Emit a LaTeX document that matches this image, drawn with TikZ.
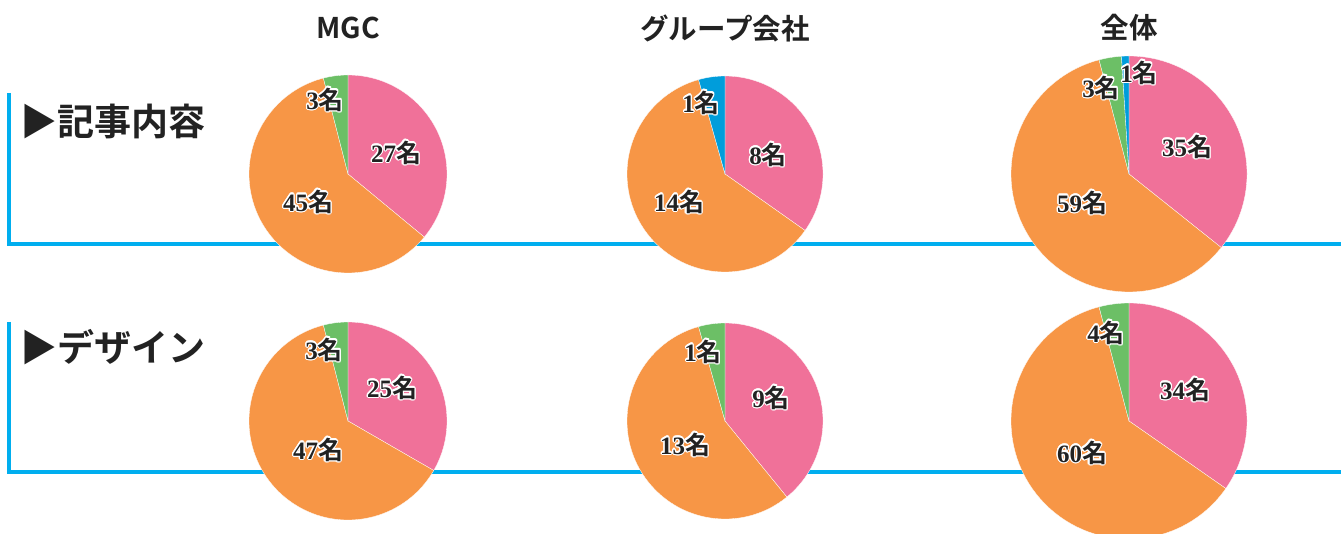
\documentclass[tikz,border=0pt]{standalone}
\usepackage{fontspec}
\setmainfont{Noto Sans CJK JP}[BoldFont={Noto Sans CJK JP Bold}]
\newfontfamily\numfont{Liberation Serif}
\usepackage{contour}
\contourlength{1.1pt}
\definecolor{piepink}{HTML}{F07199}
\definecolor{pieorange}{HTML}{F79646}
\definecolor{piegreen}{HTML}{6CBF66}
\definecolor{pieblue}{HTML}{009DDB}
\definecolor{linecyan}{HTML}{00AEEF}
\definecolor{inkdark}{HTML}{222222}
\tikzset{
  colhead/.style={font=\fontsize{28.5}{28.5}\selectfont\bfseries, text=inkdark},
  rowhead/.style={font=\fontsize{37}{37}\selectfont\bfseries, text=inkdark, anchor=west, inner sep=0pt},
  count/.style={font=\fontsize{25}{25}\selectfont\bfseries, text=inkdark, inner sep=0pt},
  frameline/.style={linecyan, line width=3.2pt},
}
% one pie: centre x, centre y, radius, total, list of from/to/colour
\newcommand{\piechart}[5]{%
  \foreach \s/\e/\c in {#5}
    \fill[\c, draw=white, line width=0.3pt] (#1,#2) -- ++({90-(\s/#4)*360}:#3)
      arc[start angle={90-(\s/#4)*360}, end angle={90-(\e/#4)*360}, radius=#3] -- cycle;
}
\newcommand{\ninzu}[1]{\contour{white}{{\numfont\bfseries #1}名}}
\begin{document}
\begin{tikzpicture}[x=1pt, y=1pt]
  \useasboundingbox (0,0) rectangle (1341,533);
  \clip (0,0) rectangle (1341,533);
  % frames
  \draw[frameline] (9,440) |- (1341,289);
  \draw[frameline] (9,211) |- (1341,61);
  % pies
  \piechart{348}{359}{99}{75}{0/27/piepink, 27/72/pieorange, 72/75/piegreen}
  \piechart{725}{359}{98}{23}{0/8/piepink, 8/22/pieorange, 22/23/pieblue}
  \piechart{1129}{359}{118}{98}{0/35/piepink, 35/94/pieorange, 94/97/piegreen, 97/98/pieblue}
  \piechart{348}{112}{99}{75}{0/25/piepink, 25/72/pieorange, 72/75/piegreen}
  \piechart{725}{112}{98}{23}{0/9/piepink, 9/22/pieorange, 22/23/piegreen}
  \piechart{1129}{112}{118}{98}{0/34/piepink, 34/94/pieorange, 94/98/piegreen}
  % headings
  \node[colhead] (hmgc) at (348,505) {MGC};
  \node[colhead] (hgroup) at (725,505) {グループ会社};
  \node[colhead] (hall) at (1129,505) {全体};
  \node[rowhead] (rkiji) at (20,412) {▶記事内容};
  \node[rowhead] (rdesign) at (20,186) {▶デザイン};
  % counts
  \node[count] (kmgcg) at (325,433) {\ninzu{3}};
  \node[count] (kmgcp) at (396,380) {\ninzu{27}};
  \node[count] (kmgco) at (308,331) {\ninzu{45}};
  \node[count] (kgrpb) at (701,430) {\ninzu{1}};
  \node[count] (kgrpp) at (768,378) {\ninzu{8}};
  \node[count] (kgrpo) at (679,331) {\ninzu{14}};
  \node[count] (kallb) at (1139,460) {\ninzu{1}};
  \node[count] (kallg) at (1101,445) {\ninzu{3}};
  \node[count] (kallp) at (1187,386) {\ninzu{35}};
  \node[count] (kallo) at (1082,330) {\ninzu{59}};
  \node[count] (dmgcg) at (324,183) {\ninzu{3}};
  \node[count] (dmgcp) at (392,145) {\ninzu{25}};
  \node[count] (dmgco) at (318,83) {\ninzu{47}};
  \node[count] (dgrpg) at (703,181) {\ninzu{1}};
  \node[count] (dgrpp) at (771,135) {\ninzu{9}};
  \node[count] (dgrpo) at (685,88) {\ninzu{13}};
  \node[count] (dallg) at (1106,200) {\ninzu{4}};
  \node[count] (dallp) at (1185,143) {\ninzu{34}};
  \node[count] (dallo) at (1082,80) {\ninzu{60}};
\end{tikzpicture}
\end{document}
